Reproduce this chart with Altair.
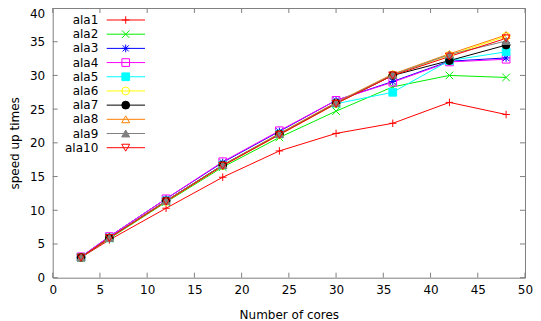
import altair as alt
import pandas as pd

cores = [3, 6, 12, 18, 24, 30, 36, 42, 48]
series = ["ala1", "ala2", "ala3", "ala4", "ala5", "ala6", "ala7", "ala8", "ala9", "ala10"]
ala1 = [3.0, 5.6, 10.3, 14.9, 18.8, 21.4, 22.9, 26.0, 24.2]
ala2 = [3.0, 5.8, 11.2, 16.4, 20.8, 24.7, 28.3, 30.0, 29.7]
ala3 = [3.1, 6.1, 11.7, 17.1, 21.7, 26.3, 29.1, 32.1, 32.6]
ala4 = [3.1, 6.1, 11.7, 17.2, 21.8, 26.3, 29.0, 32.0, 32.4]
ala5 = [3.0, 5.9, 11.4, 16.7, 21.3, 25.8, 27.5, 32.2, 33.5]
ala6 = [3.0, 5.9, 11.3, 16.6, 21.2, 25.8, 30.1, 33.0, 35.8]
ala7 = [3.0, 5.9, 11.4, 16.7, 21.3, 25.9, 30.0, 32.2, 34.5]
ala8 = [3.0, 5.9, 11.4, 16.7, 21.4, 26.0, 30.2, 33.2, 36.0]
ala9 = [3.0, 5.9, 11.4, 16.7, 21.3, 25.9, 30.1, 33.1, 35.1]
ala10 = [3.0, 5.9, 11.3, 16.6, 21.2, 25.8, 30.0, 32.8, 35.5]
values = [ala1, ala2, ala3, ala4, ala5, ala6, ala7, ala8, ala9, ala10]
x_ticks = [0, 5, 10, 15, 20, 25, 30, 35, 40, 45, 50]
y_ticks = [0, 5, 10, 15, 20, 25, 30, 35, 40]

colors = ["#ff0000", "#00ee00", "#0000ff", "#ff00ff", "#00ffff", "#ffff00",
          "#000000", "#ff8000", "#808080", "#ff0000"]
PLUS = "M-1,0L1,0M0,-1L0,1"
CROSS = "M-1,-1L1,1M-1,1L1,-1"
STAR = "M-1,0L1,0M0,-1L0,1M-0.8,-0.8L0.8,0.8M-0.8,0.8L0.8,-0.8"
shapes = [PLUS, CROSS, STAR, "square", "square", "circle", "circle",
          "triangle-up", "triangle-up", "triangle-down"]
fills = ["transparent", "transparent", "transparent", "transparent", "#00ffff",
         "transparent", "#000000", "transparent", "#808080", "transparent"]
sizes = [56, 64, 64, 81, 81, 81, 90, 90, 90, 90]

rows = []
for s, vals in zip(series, values):
    for c, v in zip(cores, vals):
        rows.append({"series": s, "cores": c, "speedup": v})
df = pd.DataFrame(rows)
leg = pd.DataFrame({"series": series})
xt = pd.DataFrame({"t": x_ticks})
yt = pd.DataFrame({"t": y_ticks})

W, H = 472.3, 269.7
FONT = "DejaVu Sans"

xscale = alt.Scale(domain=[0, 50], nice=False)
yscale = alt.Scale(domain=[0, 40], nice=False)
col = alt.Color("series:N", scale=alt.Scale(domain=series, range=colors), legend=None)
shp = alt.Shape("series:N", scale=alt.Scale(domain=series, range=shapes), legend=None)
fil = alt.Fill("series:N", scale=alt.Scale(domain=series, range=fills), legend=None)
siz = alt.Size("series:N", scale=alt.Scale(domain=series, range=sizes), legend=None)

xaxis = alt.Axis(values=x_ticks, tickSize=0, domain=False, grid=False, labelPadding=7,
                 title="Number of cores", titlePadding=14, labelFlush=False)
yaxis = alt.Axis(values=y_ticks, tickSize=0, domain=False, grid=False, labelPadding=8,
                 title="speed up times", titlePadding=8,
                 labelBaseline={"condition": {"test": "datum.value == 40", "value": "top"},
                                "value": "middle"},
                 labelOffset={"condition": {"test": "datum.value == 40", "value": 1},
                              "value": 0})

tickcol = "#808080"
xt_bot = alt.Chart(xt).mark_rule(color=tickcol, strokeWidth=1).encode(
    x=alt.X("t:Q", scale=xscale, axis=xaxis), y=alt.value(H), y2=alt.value(H - 5))
xt_top = alt.Chart(xt).mark_rule(color=tickcol, strokeWidth=1).encode(
    x=alt.X("t:Q", scale=xscale, axis=xaxis), y=alt.value(0), y2=alt.value(5))
yt_left = alt.Chart(yt).mark_rule(color=tickcol, strokeWidth=1).encode(
    y=alt.Y("t:Q", scale=yscale, axis=None), x=alt.value(0), x2=alt.value(5))
yt_right = alt.Chart(yt).mark_rule(color=tickcol, strokeWidth=1).encode(
    y=alt.Y("t:Q", scale=yscale, axis=None), x=alt.value(W), x2=alt.value(W - 5))

lines = alt.Chart(df).mark_line(strokeWidth=1).encode(
    x=alt.X("cores:Q", scale=xscale, axis=xaxis),
    y=alt.Y("speedup:Q", scale=yscale, axis=yaxis),
    color=col,
    detail="series:N",
)
points = alt.Chart(df).mark_point(filled=False, opacity=1, strokeWidth=1, fillOpacity=1).encode(
    x=alt.X("cores:Q", scale=xscale, axis=xaxis),
    y=alt.Y("speedup:Q", scale=yscale, axis=None),
    color=col, shape=shp, fill=fil, size=siz,
)

legy = alt.Y("series:N", sort=series, axis=None,
             scale=alt.Scale(type="point", range=[12, 139.7], padding=0))
leg_line = alt.Chart(leg).mark_rule(strokeWidth=1).encode(
    x=alt.value(54), x2=alt.value(92.3), y=legy, color=col)
leg_pt = alt.Chart(leg).mark_point(filled=False, opacity=1, strokeWidth=1, fillOpacity=1).encode(
    x=alt.value(73), y=legy, color=col, shape=shp, fill=fil, size=siz)
leg_txt = alt.Chart(leg).mark_text(align="right", baseline="middle", fontSize=12,
                                   font=FONT, color="#000000").encode(
    x=alt.value(45.6), y=legy, text="series:N")

chart = alt.layer(
    xt_bot, xt_top, yt_left, yt_right, lines, points, leg_line, leg_pt, leg_txt
).resolve_scale(y="independent").properties(
    width=W, height=H,
    padding={"left": 44.7, "top": 0, "right": 8, "bottom": 44},
    autosize=alt.AutoSizeParams(type="none"),
).configure_view(
    stroke=tickcol, strokeWidth=1
).configure_axis(
    labelFont=FONT, titleFont=FONT, labelFontSize=12, titleFontSize=12,
    labelColor="#000000", titleColor="#000000", titleFontWeight="normal",
).configure_text(font=FONT)

chart.save("out.html", embed_options={"renderer": "svg", "actions": False})
